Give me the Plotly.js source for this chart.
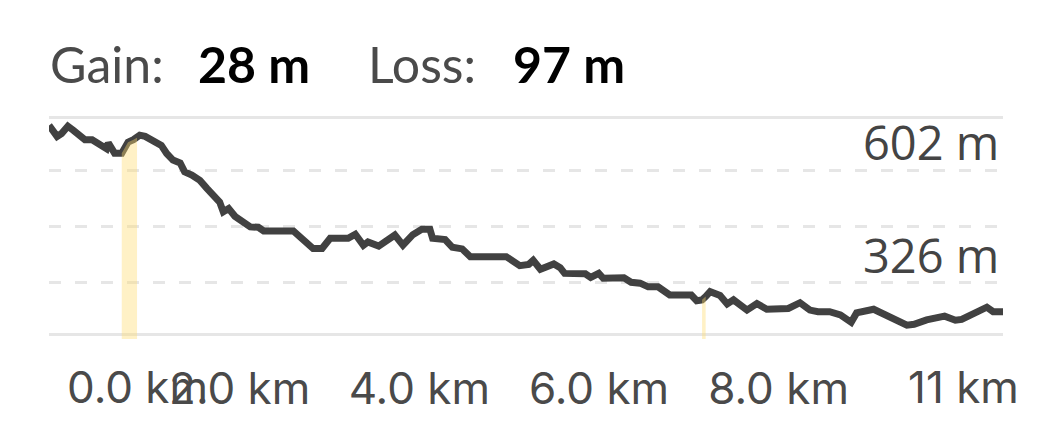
<!DOCTYPE html>
<html>
<head>
<meta charset="utf-8">
<script src="https://cdn.plot.ly/plotly-3.0.1.min.js"></script>
<style>
  html, body { margin: 0; padding: 0; background: #ffffff; }
  #chart { width: 1040px; height: 440px; }
</style>
</head>
<body>
<div id="chart"></div>
<script>
// ---- data ----
const distanceKm = [
  0.00, 0.09, 0.14, 0.21, 0.27, 0.35, 0.40, 0.48, 0.55, 0.60,
  0.64, 0.66, 0.69, 0.73, 0.81, 0.88, 0.94, 0.98, 1.01, 1.07,
  1.14, 1.20, 1.25, 1.31, 1.38, 1.46, 1.51, 1.59, 1.68, 1.76,
  1.83, 1.90, 1.94, 2.00, 2.07, 2.16, 2.24, 2.33, 2.39, 2.72,
  2.83, 2.94, 3.04, 3.13, 3.33, 3.41, 3.50, 3.55, 3.67, 3.76,
  3.85, 3.94, 4.05, 4.15, 4.24, 4.27, 4.41, 4.49, 4.60, 4.69,
  5.09, 5.24, 5.34, 5.39, 5.47, 5.62, 5.69, 5.74, 5.97, 6.03,
  6.12, 6.17, 6.40, 6.48, 6.58, 6.67, 6.78, 6.91, 7.15, 7.21,
  7.27, 7.31, 7.36, 7.47, 7.55, 7.62, 7.77, 7.88, 7.99, 8.23,
  8.36, 8.47, 8.56, 8.69, 8.81, 8.93, 8.99, 9.18, 9.33, 9.55,
  9.63, 9.77, 9.97, 10.09, 10.16, 10.44, 10.51, 10.62
];
const elevationM = [
  712, 685, 692, 710, 700, 684, 677, 677, 666, 658,
  655, 669, 655, 644, 644, 671, 677, 682, 688, 685,
  675, 667, 663, 643, 627, 620, 598, 590, 577, 557,
  538, 524, 500, 508, 489, 475, 463, 462, 453, 453,
  432, 410, 410, 435, 435, 445, 418, 426, 416, 431,
  443, 418, 444, 457, 457, 435, 432, 413, 409, 390,
  390, 368, 371, 381, 359, 372, 363, 349, 348, 339,
  349, 337, 338, 327, 325, 316, 316, 296, 296, 282,
  284, 292, 304, 295, 274, 284, 259, 275, 261, 263,
  277, 259, 255, 255, 247, 229, 252, 261, 247, 222,
  224, 235, 244, 234, 236, 266, 255, 255
];
// highlighted climbing stretches (km)
const climbStartKm = [0.81, 7.27];
const climbEndKm   = [0.98, 7.31];

// axis values
const yGridValues  = [326, 464, 602];
const yBoundValues = [200, 731];
const yLabelValues = [602, 326];
const yLabelText   = ['602 m', '326 m'];
const xTickVals    = [2, 4, 6, 8];
const xTickText    = ['2.0 km', '4.0 km', '6.0 km', '8.0 km'];
const xStartLabel  = '0.0 km';
const xEndLabel    = '11 km';

// header
const headerLabels = ['Gain:', 'Loss:'];
const headerValues = ['28 m', '97 m'];

// ---- layout geometry ----
const W = 1040, H = 440;
const M = { l: 49, r: 37, t: 114, b: 101 };
const PW = W - M.l - M.r, PH = H - M.t - M.b;
const px2x = p => (p - M.l) / PW;
const py2y = p => (H - M.b - p) / PH;

const lineTrace = {
  x: distanceKm, y: elevationM, type: 'scatter', mode: 'lines',
  line: { color: '#414141', width: 7, shape: 'linear' },
  hoverinfo: 'skip', showlegend: false
};

const climbTraces = climbStartKm.map((s, i) => {
  const e = climbEndKm[i];
  const xs = [], ys = [];
  distanceKm.forEach((d, k) => { if (d >= s && d <= e) { xs.push(d); ys.push(elevationM[k]); } });
  return {
    x: xs, y: ys, type: 'scatter', mode: 'lines', fill: 'tozeroy',
    fillcolor: 'rgba(255,220,112,0.4)', line: { width: 0, color: 'rgba(0,0,0,0)' },
    hoverinfo: 'skip', showlegend: false
  };
});

const gridColor = '#e6e6e6';
const annotations = [];

// header
const headerLabelPx = [48, 366];
const headerValuePx = [196, 511];
headerLabels.forEach((t, i) => {
  annotations.push({
    text: t, xref: 'paper', yref: 'paper', x: px2x(headerLabelPx[i]), y: py2y(64),
    xanchor: 'left', yanchor: 'middle', showarrow: false,
    font: { family: 'Lato, sans-serif', size: 50, color: '#4a4a4a' }
  });
  annotations.push({
    text: '<b>' + headerValues[i] + '</b>', xref: 'paper', yref: 'paper',
    x: px2x(headerValuePx[i]), y: py2y(64),
    xanchor: 'left', yanchor: 'middle', showarrow: false,
    font: { family: 'Lato, sans-serif', size: 50, color: '#000000', weight: 900 }
  });
});

// y labels
yLabelValues.forEach((v, i) => {
  annotations.push({
    text: yLabelText[i], xref: 'paper', yref: 'y', x: 1, y: v,
    xanchor: 'right', yanchor: 'bottom', xshift: -2, yshift: -6, showarrow: false,
    font: { family: 'Open Sans, sans-serif', size: 47, color: '#444444' }
  });
});

// end x labels (clamped inside the view by the app)
annotations.push({
  text: xStartLabel, xref: 'x', yref: 'paper', x: distanceKm[0], y: py2y(387),
  xanchor: 'left', yanchor: 'middle', xshift: 16, showarrow: false,
  font: { family: 'Inter, sans-serif', size: 44, color: '#4a4a4a' }
});
annotations.push({
  text: xEndLabel, xref: 'x', yref: 'paper', x: distanceKm[distanceKm.length - 1], y: py2y(387),
  xanchor: 'left', yanchor: 'middle', xshift: -97, showarrow: false,
  font: { family: 'Inter, sans-serif', size: 44, color: '#4a4a4a' }
});

const layout = {
  width: W, height: H, margin: M,
  paper_bgcolor: '#ffffff', plot_bgcolor: '#ffffff',
  showlegend: false, hovermode: false,
  xaxis: {
    range: [distanceKm[0], distanceKm[distanceKm.length - 1]],
    showgrid: false, zeroline: false, showline: false,
    tickmode: 'array', tickvals: xTickVals, ticktext: xTickText,
    ticks: '', ticklabelshift: 11, ticklabelstandoff: 20,
    tickfont: { family: 'Inter, sans-serif', size: 44, color: '#4a4a4a' },
    fixedrange: true
  },
  yaxis: {
    range: [188, 740],
    tickmode: 'array', tickvals: yGridValues, showticklabels: false, ticks: '',
    showgrid: true, gridcolor: gridColor, gridwidth: 3, griddash: '12px,14px',
    zeroline: false, showline: false,
    minor: { tickmode: 'array', tickvals: yBoundValues, showgrid: true, gridcolor: gridColor, gridwidth: 3, griddash: 'solid', ticks: '' },
    fixedrange: true
  },
  annotations: annotations
};

Plotly.newPlot('chart', [lineTrace].concat(climbTraces), layout, { displayModeBar: false, staticPlot: true });
</script>
</body>
</html>
